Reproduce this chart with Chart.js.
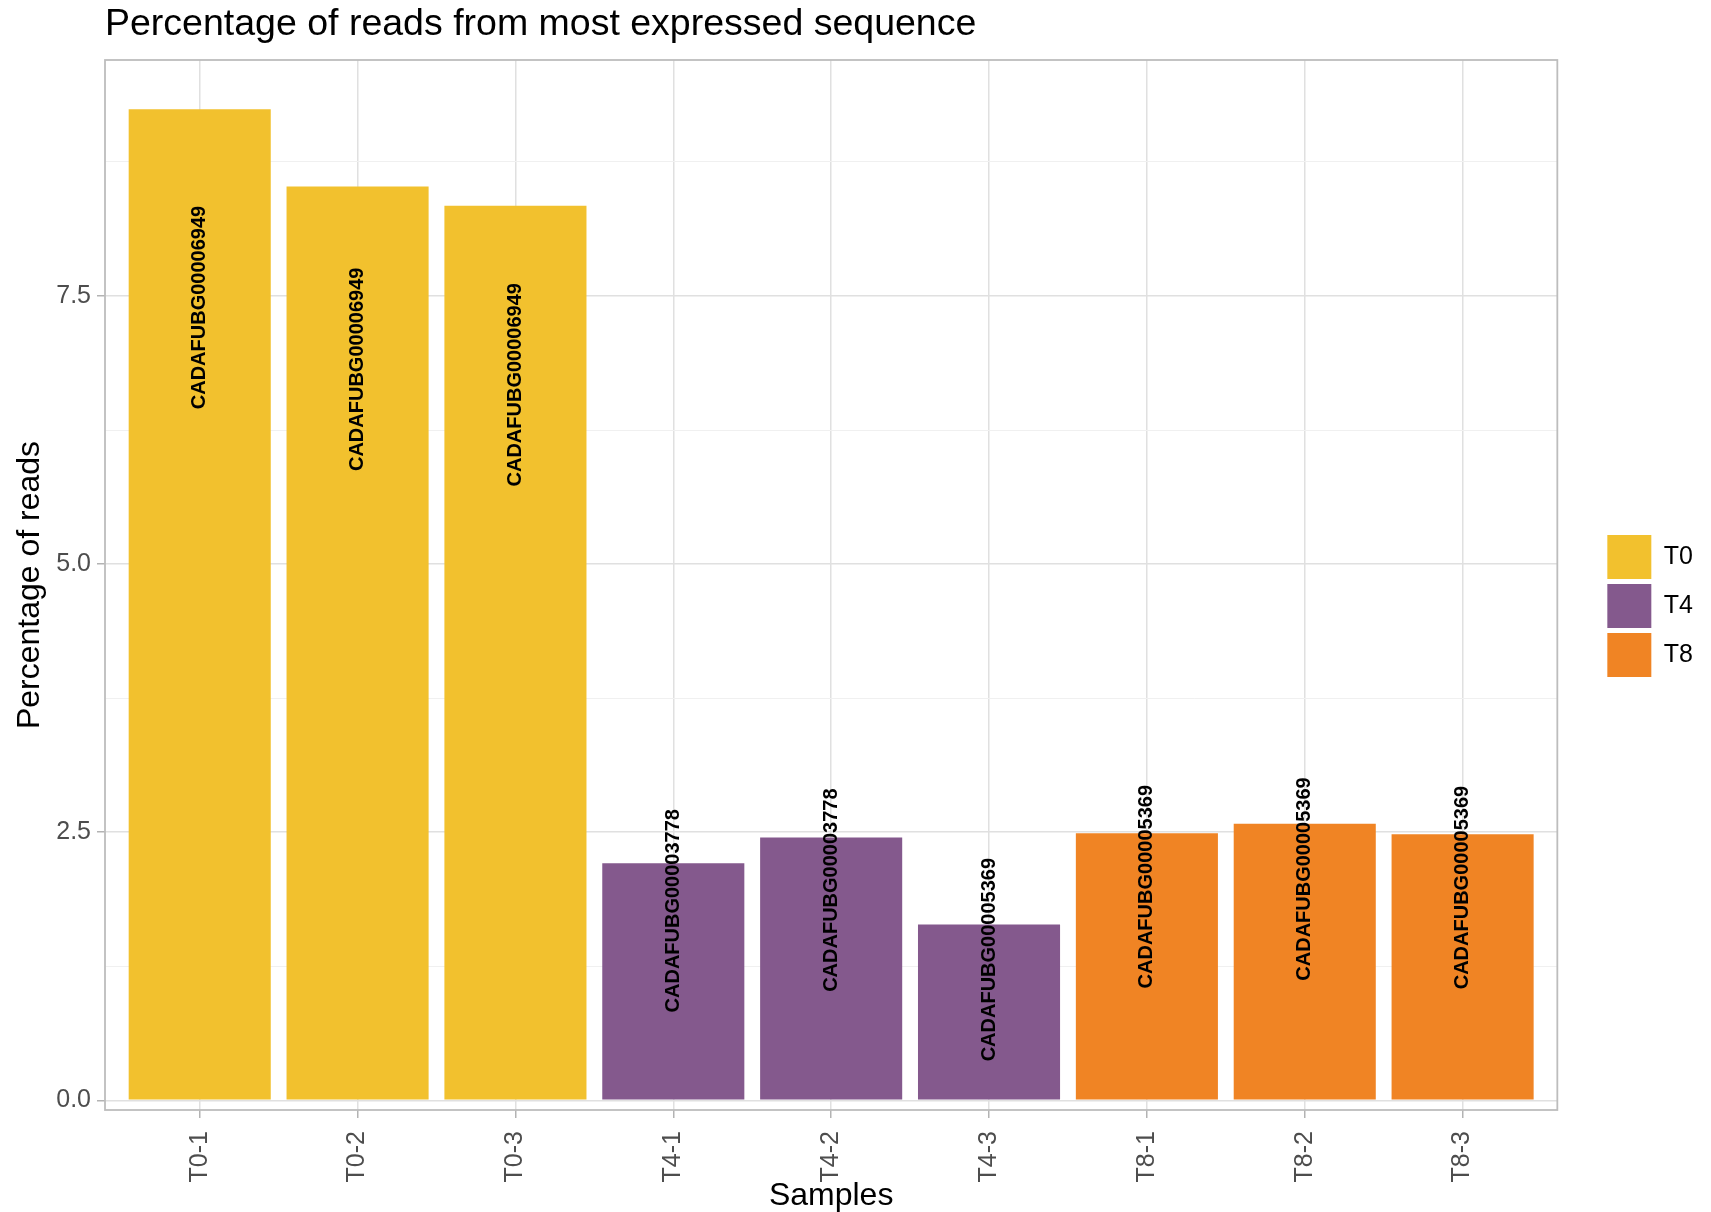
<!DOCTYPE html>
<html>
<head>
<meta charset="utf-8">
<title>Percentage of reads from most expressed sequence</title>
<script src="https://cdn.jsdelivr.net/npm/chart.js@4.4.1/dist/chart.umd.min.js"></script>
<style>
  html, body { margin: 0; padding: 0; background: #fff; }
  #chart { display: block; }
</style>
</head>
<body>
<canvas id="chart" width="1711" height="1212"></canvas>
<script>
// data
const samples = ['T0-1', 'T0-2', 'T0-3', 'T4-1', 'T4-2', 'T4-3', 'T8-1', 'T8-2', 'T8-3'];
const groups = ['T0', 'T0', 'T0', 'T4', 'T4', 'T4', 'T8', 'T8', 'T8'];
const percentReads = [9.24, 8.52, 8.34, 2.21, 2.45, 1.64, 2.49, 2.58, 2.48];
const topSequence = [
  'CADAFUBG00006949', 'CADAFUBG00006949', 'CADAFUBG00006949',
  'CADAFUBG00003778', 'CADAFUBG00003778', 'CADAFUBG00005369',
  'CADAFUBG00005369', 'CADAFUBG00005369', 'CADAFUBG00005369'
];
const groupNames = ['T0', 'T4', 'T8'];
const groupColors = ['#F2C12E', '#84598D', '#F08424'];
const yTicks = [0, 1.25, 2.5, 3.75, 5, 6.25, 7.5, 8.75];
const yMajor = [0, 2.5, 5, 7.5];

const FONT = '"Liberation Sans", Arial, Helvetica, sans-serif';
Chart.defaults.font.family = FONT;

// one dataset per group so the legend comes out of chart.js
const datasets = groupNames.map(function(g, k) {
  const pts = [];
  samples.forEach(function(s, i) {
    if (groups[i] === g) pts.push({ x: i, y: percentReads[i] });
  });
  return {
    label: g,
    data: pts,
    backgroundColor: groupColors[k],
    borderWidth: 0,
    grouped: false,
    categoryPercentage: 1,
    barPercentage: 0.9
  };
});

// gene name written up the middle of each bar
const barLabels = {
  id: 'barLabels',
  afterDatasetsDraw(chart) {
    const ctx = chart.ctx;
    const xs = chart.scales.x, ys = chart.scales.y;
    ctx.save();
    ctx.font = 'bold 20px ' + FONT;
    ctx.fillStyle = '#000';
    ctx.textAlign = 'center';
    ctx.textBaseline = 'middle';
    percentReads.forEach(function(v, i) {
      ctx.save();
      ctx.translate(xs.getPixelForValue(i), ys.getPixelForValue(v * 0.8));
      ctx.rotate(-Math.PI / 2);
      ctx.fillText(topSequence[i], 0, 0);
      ctx.restore();
    });
    ctx.restore();
  }
};

// grey frame round the panel
const panelBorder = {
  id: 'panelBorder',
  afterDraw(chart) {
    const a = chart.chartArea, ctx = chart.ctx;
    ctx.save();
    ctx.strokeStyle = '#BDBDBD';
    ctx.lineWidth = 1.8;
    ctx.strokeRect(a.left, a.top, a.right - a.left, a.bottom - a.top);
    ctx.restore();
  }
};

new Chart(document.getElementById('chart').getContext('2d'), {
  type: 'bar',
  data: { datasets: datasets },
  plugins: [barLabels, panelBorder],
  options: {
    responsive: false,
    animation: false,
    events: [],
    layout: { padding: { left: 0, right: 8, top: 0, bottom: 0 } },
    plugins: {
      tooltip: { enabled: false },
      title: {
        display: true,
        text: 'Percentage of reads from most expressed sequence',
        align: 'start',
        fullSize: false,
        color: '#000',
        font: { size: 37.5, weight: 'normal', lineHeight: 1.2 },
        padding: { top: 2, bottom: 13 }
      },
      legend: {
        position: 'right',
        labels: {
          boxWidth: 44,
          boxHeight: 44,
          padding: 5,
          color: '#000',
          font: { size: 25 }
        }
      }
    },
    scales: {
      x: {
        type: 'linear',
        min: -0.6,
        max: 8.6,
        offset: false,
        afterBuildTicks: function(scale) {
          scale.ticks = samples.map(function(s, i) { return { value: i }; });
        },
        afterFit: function(scale) { scale.height = 102; },
        grid: {
          offset: false,
          color: '#E0E0E0',
          lineWidth: 1.5,
          tickColor: '#B3B3B3',
          tickLength: 8
        },
        border: { display: false },
        ticks: {
          autoSkip: false,
          minRotation: 90,
          maxRotation: 90,
          padding: 13,
          color: '#4D4D4D',
          font: { size: 25 },
          callback: function(v) { return samples[v]; }
        },
        title: {
          display: true,
          text: 'Samples',
          color: '#000',
          font: { size: 32, lineHeight: 1 },
          padding: { top: 0, bottom: 0 }
        }
      },
      y: {
        min: -0.09,
        max: 9.7,
        afterBuildTicks: function(scale) {
          scale.ticks = yTicks.map(function(v) { return { value: v }; });
        },
        afterFit: function(scale) { scale.width = 105; },
        grid: {
          color: function(c) { return yMajor.includes(c.tick.value) ? '#E0E0E0' : '#F0F0F0'; },
          lineWidth: function(c) { return yMajor.includes(c.tick.value) ? 1.5 : 1; },
          tickColor: function(c) { return yMajor.includes(c.tick.value) ? '#B3B3B3' : 'rgba(0,0,0,0)'; },
          tickLength: 8
        },
        border: { display: false },
        ticks: {
          padding: 6,
          color: '#4D4D4D',
          font: { size: 25 },
          callback: function(v) { return yMajor.includes(v) ? v.toFixed(1) : ''; }
        },
        title: {
          display: true,
          text: 'Percentage of reads',
          color: '#000',
          font: { size: 32, lineHeight: 1.2 },
          padding: { top: 11, bottom: 0 }
        }
      },
      // empty axis: only keeps the legend away from the panel
      gap: {
        type: 'linear',
        position: 'right',
        display: true,
        afterFit: function(scale) { scale.width = 45; },
        grid: { display: false },
        border: { display: false },
        ticks: { display: false },
        title: { display: false }
      }
    }
  }
});
</script>
</body>
</html>
